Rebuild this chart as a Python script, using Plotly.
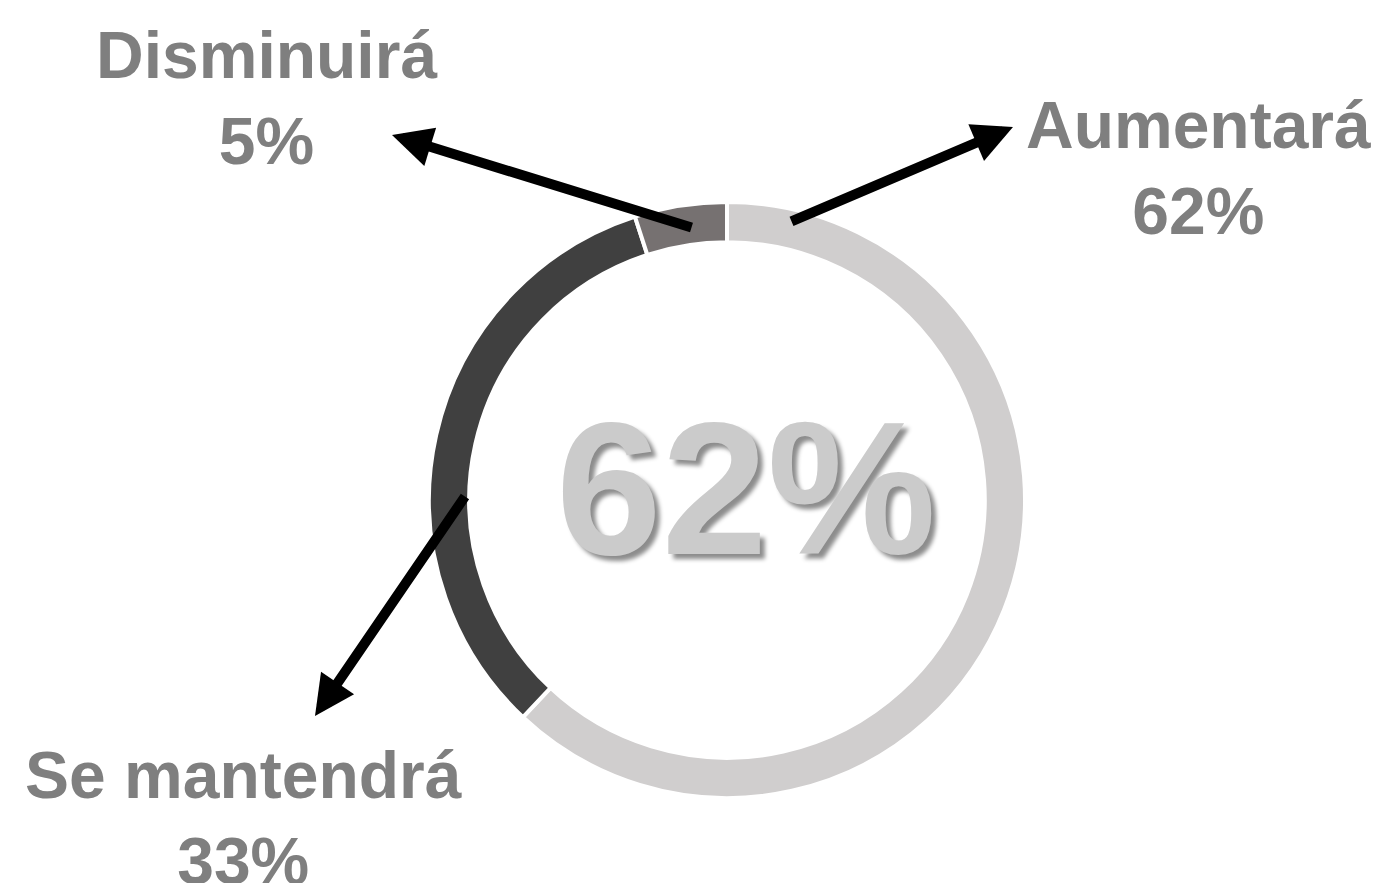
import plotly.graph_objects as go

# datos
categorias = ["Aumentará", "Se mantendrá", "Disminuirá"]
valores = [62, 33, 5]
colores = ["#d0cece", "#404040", "#767171"]
destacado = "62%"

W, H = 1388, 883
cx, cy, r = 727, 500, 298

fig = go.Figure()

fig.add_trace(go.Pie(
    labels=categorias,
    values=valores,
    hole=0.865,
    sort=False,
    direction="clockwise",
    rotation=0,
    textinfo="none",
    hoverinfo="label+percent",
    marker=dict(colors=colores, line=dict(color="white", width=4)),
    showlegend=False,
    domain=dict(x=[(cx - r) / W, (cx + r) / W],
                y=[(H - cy - r) / H, (H - cy + r) / H]),
))

# numero central
fig.add_annotation(
    x=cx + 19, y=cy - 12, xref="x", yref="y",
    text=destacado, showarrow=False,
    font=dict(family="Liberation Sans, Arial", size=190,
              color="#cbcbcb", weight="bold",
              shadow="5px 5px 4px rgba(0,0,0,0.45)"),
)

# etiquetas con flechas (pos. etiqueta, inicio flecha, punta flecha)
etiquetas = [
    ("Disminuirá", 266, 98, (693, 228), (392, 135)),
    ("Aumentará", 1198, 168, (790, 222), (1013, 127)),
    ("Se mantendrá", 243, 818, (466, 495), (315, 716)),
]
pct = dict(zip(categorias, valores))

for nombre, lx, ly, (x0, y0), (x1, y1) in etiquetas:
    fig.add_annotation(
        x=lx, y=ly, xref="x", yref="y",
        text=f"<b>{nombre}<br>{pct[nombre]}%</b>", showarrow=False,
        font=dict(family="Liberation Sans, Arial", size=66, color="#7f7f7f"),
    )
    fig.add_annotation(
        x=x1, y=y1, ax=x0, ay=y0,
        xref="x", yref="y", axref="x", ayref="y",
        text="", showarrow=True,
        arrowhead=2, arrowsize=0.8, arrowwidth=10, arrowcolor="black",
    )

fig.update_layout(
    width=W, height=H,
    margin=dict(l=0, r=0, t=0, b=0),
    paper_bgcolor="white",
    plot_bgcolor="rgba(0,0,0,0)",
    xaxis=dict(range=[0, W], visible=False, fixedrange=True),
    yaxis=dict(range=[H, 0], visible=False, fixedrange=True),
)

# quitar el margen del body para que la figura quede en (0, 0)
fig.write_html("out.html", config=dict(displayModeBar=False),
               post_script="document.body.style.margin='0';")
